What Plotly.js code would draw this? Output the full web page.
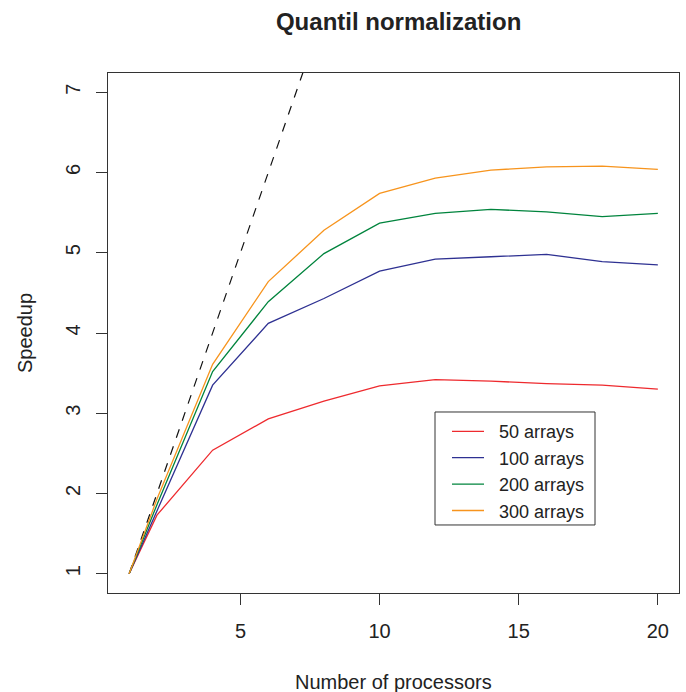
<!DOCTYPE html>
<html>
<head>
<meta charset="utf-8">
<script src="https://cdn.plot.ly/plotly-3.0.1.min.js"></script>
<style>html,body{margin:0;padding:0;background:#fff;}#chart{width:686px;height:692px;}</style>
</head>
<body>
<div id="chart"></div>
<script>
// Number of processors
const procs = [1, 2, 4, 6, 8, 10, 12, 14, 16, 18, 20];
// Speedup per data-set size
const arrays50  = [1, 1.73, 2.54, 2.93, 3.15, 3.34, 3.42, 3.40, 3.37, 3.35, 3.30];
const arrays100 = [1, 1.79, 3.35, 4.12, 4.43, 4.77, 4.92, 4.95, 4.98, 4.89, 4.85];
const arrays200 = [1, 1.86, 3.52, 4.39, 4.99, 5.37, 5.49, 5.54, 5.51, 5.45, 5.49];
const arrays300 = [1, 1.93, 3.61, 4.64, 5.28, 5.74, 5.93, 6.03, 6.07, 6.08, 6.04];
// Ideal (linear) speedup equals the number of processors
const ideal = procs.slice();
const seriesNames = ["50 arrays", "100 arrays", "200 arrays", "300 arrays"];
const seriesColors = ["#EE2A2E", "#2E3192", "#00843D", "#F7941D"];
const xTicks = [5, 10, 15, 20];
const yTicks = [1, 2, 3, 4, 5, 6, 7];

const font = "Liberation Sans, Arial, Helvetica, sans-serif";
const series = [arrays50, arrays100, arrays200, arrays300];
const NB = "\u00A0\u00A0";

const traces = [{
  x: procs, y: ideal, type: "scatter", mode: "lines",
  line: {color: "#111", width: 1.2, dash: "dash"},
  showlegend: false, hoverinfo: "skip"
}];
series.forEach((s, i) => traces.push({
  x: procs, y: s, type: "scatter", mode: "lines", name: NB + seriesNames[i],
  line: {color: seriesColors[i], width: 1.3}
}));

const layout = {
  width: 686, height: 692,
  margin: {l: 108, r: 7, t: 73, b: 99},
  paper_bgcolor: "#fff", plot_bgcolor: "#fff",
  font: {family: font, size: 20, color: "#222"},
  title: {text: "<b>Quantil normalization</b>", font: {family: font, size: 24, color: "#222"},
          x: 0.509, xref: "paper", y: 1 - 22/692, yanchor: "middle"},
  xaxis: {
    range: [0.24, 20.76], tickmode: "array", tickvals: xTicks,
    ticks: "outside", ticklen: 11, tickwidth: 1, tickcolor: "#333",
    showline: true, mirror: true, linecolor: "#333", linewidth: 1,
    showgrid: false, zeroline: false, ticklabelstandoff: 9,
    tickfont: {family: font, size: 20, color: "#222"}
  },
  yaxis: {
    range: [0.76, 7.24], tickmode: "array", tickvals: yTicks,
    ticks: "outside", ticklen: 11, tickwidth: 1, tickcolor: "#333",
    showline: true, mirror: true, linecolor: "#333", linewidth: 1,
    showgrid: false, zeroline: false, tickangle: -90, ticklabelstandoff: 8,
    tickfont: {family: font, size: 20, color: "#222"}
  },
  annotations: [
    {text: "Number of processors", xref: "paper", yref: "paper", x: 0.5, y: 0,
     yshift: -89, showarrow: false, font: {family: font, size: 20, color: "#222"}, yanchor: "middle"},
    {text: "Speedup", xref: "paper", yref: "paper", x: 0, y: 0.5, xshift: -83,
     textangle: -90, showarrow: false, font: {family: font, size: 20, color: "#222"}, xanchor: "center"}
  ],
  shapes: [
    {type: "rect", xref: "paper", yref: "paper", x0: 0.5727, x1: 0.8529, y0: 0.1308, y1: 0.3481,
     line: {color: "#333", width: 1}, fillcolor: "rgba(0,0,0,0)", layer: "above"}
  ],
  legend: {
    x: 0.5937, y: 0.346, xanchor: "left", yanchor: "top",
    bgcolor: "rgba(0,0,0,0)", borderwidth: 0,
    font: {family: font, size: 18, color: "#222"},
    tracegroupgap: 0, itemwidth: 32
  },
  showlegend: true
};

Plotly.newPlot("chart", traces, layout, {displayModeBar: false, staticPlot: true});
</script>
</body>
</html>
